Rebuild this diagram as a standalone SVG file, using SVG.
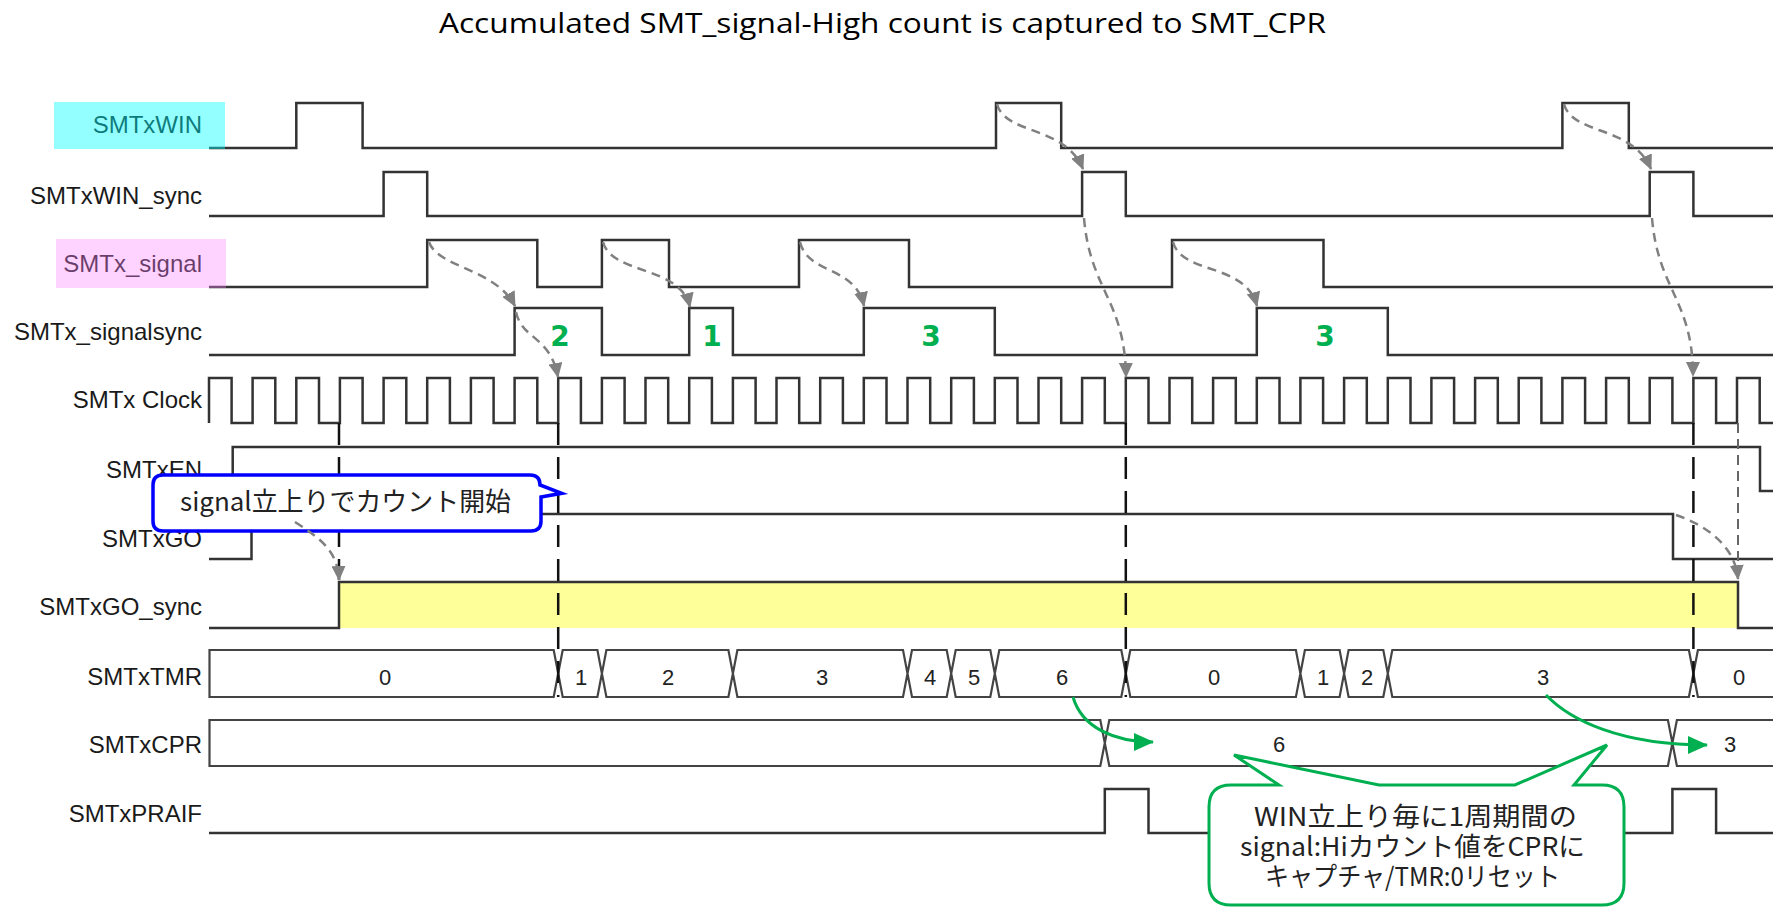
<svg xmlns="http://www.w3.org/2000/svg" width="1773" height="909" viewBox="0 0 1773 909">
<style>
.wave{fill:none;stroke:#333;stroke-width:2.5;stroke-linejoin:miter}
.bus{fill:none;stroke:#444;stroke-width:2.2}
.lbl{font-family:"Liberation Sans",Arial,sans-serif;font-size:24px;fill:#1a1a1a;text-anchor:end}
.val{font-family:"Liberation Sans",Arial,sans-serif;font-size:22px;fill:#222;text-anchor:middle}
.cnt{font-family:"DejaVu Sans",Verdana,sans-serif;font-size:28px;font-weight:bold;fill:#00B050;text-anchor:middle}
.vdash{fill:none;stroke:#111;stroke-width:2.5;stroke-dasharray:22 12}
.garr{fill:none;stroke:#808080;stroke-width:2.5;stroke-dasharray:9 6;marker-end:url(#ga)}
.grarr{fill:none;stroke:#00B050;stroke-width:3;marker-end:url(#gr)}
.note{font-family:"Noto Sans CJK JP","Noto Sans",sans-serif;font-size:26px;fill:#222}
</style>
<defs>
<marker id="ga" viewBox="0 0 15 14" refX="14" refY="7" markerWidth="15" markerHeight="14" markerUnits="userSpaceOnUse" orient="auto"><path d="M0,0 L15,7 L0,14 Z" fill="#808080"/></marker>
<marker id="gr" viewBox="0 0 20 18" refX="19" refY="9" markerWidth="20" markerHeight="18" markerUnits="userSpaceOnUse" orient="auto"><path d="M0,0 L20,9 L0,18 Z" fill="#00B050"/></marker>
</defs>
<rect width="1773" height="909" fill="#fff"/>
<g id="title"><text x="439" y="33" textLength="887" lengthAdjust="spacingAndGlyphs" style="font-family:'Open Sans','Noto Sans',sans-serif;font-size:28px;fill:#000">Accumulated SMT_signal-High count is captured to SMT_CPR</text></g>
<rect x="340" y="583" width="1398" height="45" fill="#FFFF99"/>
<g id="row-win"><text class="lbl" x="202" y="133">SMTxWIN</text><path class="wave" d="M209,148 H296.3 V103 H362.6 V148 H996 V103 H1061.2 V148 H1562.4 V103 H1628.8 V148 H1773"/><rect x="54" y="102" width="171" height="47" fill="#00FFFF" fill-opacity="0.42"/></g>
<g id="row-winsync"><text class="lbl" x="202" y="204">SMTxWIN_sync</text><path class="wave" d="M209,216 H383.6 V172 H427.2 V216 H1082.1 V172 H1125.8 V216 H1649.7 V172 H1693.4 V216 H1773"/></g>
<g id="row-signal"><text class="lbl" x="202" y="272">SMTx_signal</text><path class="wave" d="M209,287 H427.2 V240 H537.3 V287 H601.9 V240 H669 V287 H799 V240 H909 V287 H1172 V240 H1323.5 V287 H1773"/><rect x="56" y="239" width="170" height="49" fill="#FF80FF" fill-opacity="0.35"/></g>
<g id="row-signalsync"><text class="lbl" x="202" y="340">SMTx_signalsync</text><path class="wave" d="M209,355 H514.6 V308 H601.9 V355 H689.2 V308 H732.9 V355 H863.8 V308 H994.8 V355 H1256.8 V308 H1387.8 V355 H1773"/>
<text class="cnt" x="560" y="346">2</text><text class="cnt" x="712" y="346">1</text><text class="cnt" x="931" y="346">3</text><text class="cnt" x="1325" y="346">3</text></g>
<g id="row-clock"><text class="lbl" x="202" y="408">SMTx Clock</text><path class="wave" d="M209,423 V378 H231.6 V423 H252.6 V378 H275.3 V423 H296.3 V378 H319 V423 H339.9 V378 H362.6 V423 H383.6 V378 H406.3 V423 H427.2 V378 H449.9 V423 H470.9 V378 H493.6 V423 H514.6 V378 H537.3 V423 H558.2 V378 H580.9 V423 H601.9 V378 H624.6 V423 H645.5 V378 H668.2 V423 H689.2 V378 H711.9 V423 H732.9 V378 H755.6 V423 H776.5 V378 H799.2 V423 H820.2 V378 H842.9 V423 H863.8 V378 H886.5 V423 H907.5 V378 H930.2 V423 H951.2 V378 H973.9 V423 H994.8 V378 H1017.5 V423 H1038.5 V378 H1061.2 V423 H1082.1 V378 H1104.8 V423 H1125.8 V378 H1148.5 V423 H1169.5 V378 H1192.2 V423 H1213.1 V378 H1235.8 V423 H1256.8 V378 H1279.5 V423 H1300.4 V378 H1323.1 V423 H1344.1 V378 H1366.8 V423 H1387.8 V378 H1410.5 V423 H1431.4 V378 H1454.1 V423 H1475.1 V378 H1497.8 V423 H1518.7 V378 H1541.4 V423 H1562.4 V378 H1585.1 V423 H1606.1 V378 H1628.8 V423 H1649.7 V378 H1672.4 V423 H1693.4 V378 H1716.1 V423 H1737 V378 H1759.7 V423 H1773"/></g>
<g id="row-en"><text class="lbl" x="202" y="478">SMTxEN</text><path class="wave" d="M209,491 H232.7 V447 H1760 V491 H1773"/></g>
<g id="row-go"><text class="lbl" x="202" y="547">SMTxGO</text><path class="wave" d="M209,559 H251.5 V514 H1673 V559 H1773"/></g>
<g id="row-gosync"><text class="lbl" x="202" y="615">SMTxGO_sync</text><path class="wave" d="M209,628 H339 V582 H1738 V628 H1773"/></g>
<g id="row-tmr"><text class="lbl" x="202" y="685">SMTxTMR</text>
<path class="bus" d="M553.7,650 H209.5 V697 H553.7 L558.2,673.5 Z M562.7,650 H597.4 L601.9,673.5 L597.4,697 H562.7 L558.2,673.5 Z M606.4,650 H728.4 L732.9,673.5 L728.4,697 H606.4 L601.9,673.5 Z M737.4,650 H903 L907.5,673.5 L903,697 H737.4 L732.9,673.5 Z M912,650 H946.7 L951.2,673.5 L946.7,697 H912 L907.5,673.5 Z M955.7,650 H990.3 L994.8,673.5 L990.3,697 H955.7 L951.2,673.5 Z M999.3,650 H1121.3 L1125.8,673.5 L1121.3,697 H999.3 L994.8,673.5 Z M1130.3,650 H1295.9 L1300.4,673.5 L1295.9,697 H1130.3 L1125.8,673.5 Z M1304.9,650 H1339.6 L1344.1,673.5 L1339.6,697 H1304.9 L1300.4,673.5 Z M1348.6,650 H1383.3 L1387.8,673.5 L1383.3,697 H1348.6 L1344.1,673.5 Z M1392.3,650 H1688.9 L1693.4,673.5 L1688.9,697 H1392.3 L1387.8,673.5 Z M1775,650 H1697.9 L1693.4,673.5 L1697.9,697 H1775"/>
<text class="val" x="385" y="685">0</text><text class="val" x="581" y="685">1</text><text class="val" x="668" y="685">2</text><text class="val" x="822" y="685">3</text><text class="val" x="930" y="685">4</text><text class="val" x="974" y="685">5</text><text class="val" x="1062" y="685">6</text><text class="val" x="1214" y="685">0</text><text class="val" x="1323" y="685">1</text><text class="val" x="1367" y="685">2</text><text class="val" x="1543" y="685">3</text><text class="val" x="1739" y="685">0</text></g>
<g id="row-cpr"><text class="lbl" x="202" y="753">SMTxCPR</text>
<path class="bus" d="M1100.3,720 H209.5 V766 H1100.3 L1104.8,743 Z M1109.3,720 H1667.9 L1672.4,743 L1667.9,766 H1109.3 L1104.8,743 Z M1775,720 H1676.9 L1672.4,743 L1676.9,766 H1775"/>
<text class="val" x="1279" y="752">6</text><text class="val" x="1730" y="752">3</text></g>
<g id="row-praif"><text class="lbl" x="202" y="822">SMTxPRAIF</text><path class="wave" d="M209,833 H1104.8 V789 H1148.5 V833 H1672.4 V789 H1716.1 V833 H1773"/></g>
<g id="connectors">
<path class="vdash" d="M339,423 V580"/>
<path class="vdash" d="M558.2,423 V697"/>
<path class="vdash" d="M1125.8,423 V697"/>
<path class="vdash" d="M1693.4,423 V697"/>
<path d="M1738,423 V570" fill="none" stroke="#666" stroke-width="2" stroke-dasharray="10 6"/>
<path class="garr" d="M429,242 C438,268 495,268 515,306"/>
<path class="garr" d="M516,312 C522,340 550,335 558,377"/>
<path class="garr" d="M603,242 C612,275 680,265 690,307"/>
<path class="garr" d="M800,242 C808,275 855,265 864,306"/>
<path class="garr" d="M1173,242 C1182,275 1245,262 1257,306"/>
<path class="garr" d="M997,104 C1005,135 1065,125 1083,169"/>
<path class="garr" d="M1564,104 C1572,135 1632,125 1651,169"/>
<path class="garr" d="M1084,218 C1090,290 1125,300 1126,377"/>
<path class="garr" d="M1652,218 C1658,290 1693,300 1693,376"/>
<path class="garr" d="M1676,515 C1705,525 1735,545 1738,579"/>
<path class="grarr" d="M1073,697 C1082,728 1115,742 1153,742"/>
<path class="grarr" d="M1546,695 C1570,720 1620,745 1707,745"/>
</g>
<g id="callout-start">
<path d="M163,475 H530 Q540,475 540,485 L561.7,493.3 L541,497 V521 Q541,531 531,531 H163 Q153,531 153,521 V485 Q153,475 163,475 Z" fill="#fff" stroke="#0000FF" stroke-width="3.5"/>
<text class="note" x="180" y="511" textLength="331" lengthAdjust="spacingAndGlyphs">signal立上りでカウント開始</text>
<path class="garr" d="M295,522 C318,537 338,550 339,580"/>
</g>
<g id="callout-capture">
<path d="M1231,785 H1279 L1234,755 L1379,785 H1515 L1607,745 L1574,785 H1602 Q1624,785 1624,807 V883 Q1624,905 1602,905 H1231 Q1209,905 1209,883 V807 Q1209,785 1231,785 Z" fill="#fff" stroke="#00B050" stroke-width="3"/>
<text class="note" x="1254" y="826" textLength="323" lengthAdjust="spacingAndGlyphs">WIN立上り毎に1周期間の</text>
<text class="note" x="1240" y="856" textLength="345" lengthAdjust="spacingAndGlyphs">signal:Hiカウント値をCPRに</text>
<text class="note" x="1265" y="886" textLength="295" lengthAdjust="spacingAndGlyphs">キャプチャ/TMR:0リセット</text>
</g>
</svg>
